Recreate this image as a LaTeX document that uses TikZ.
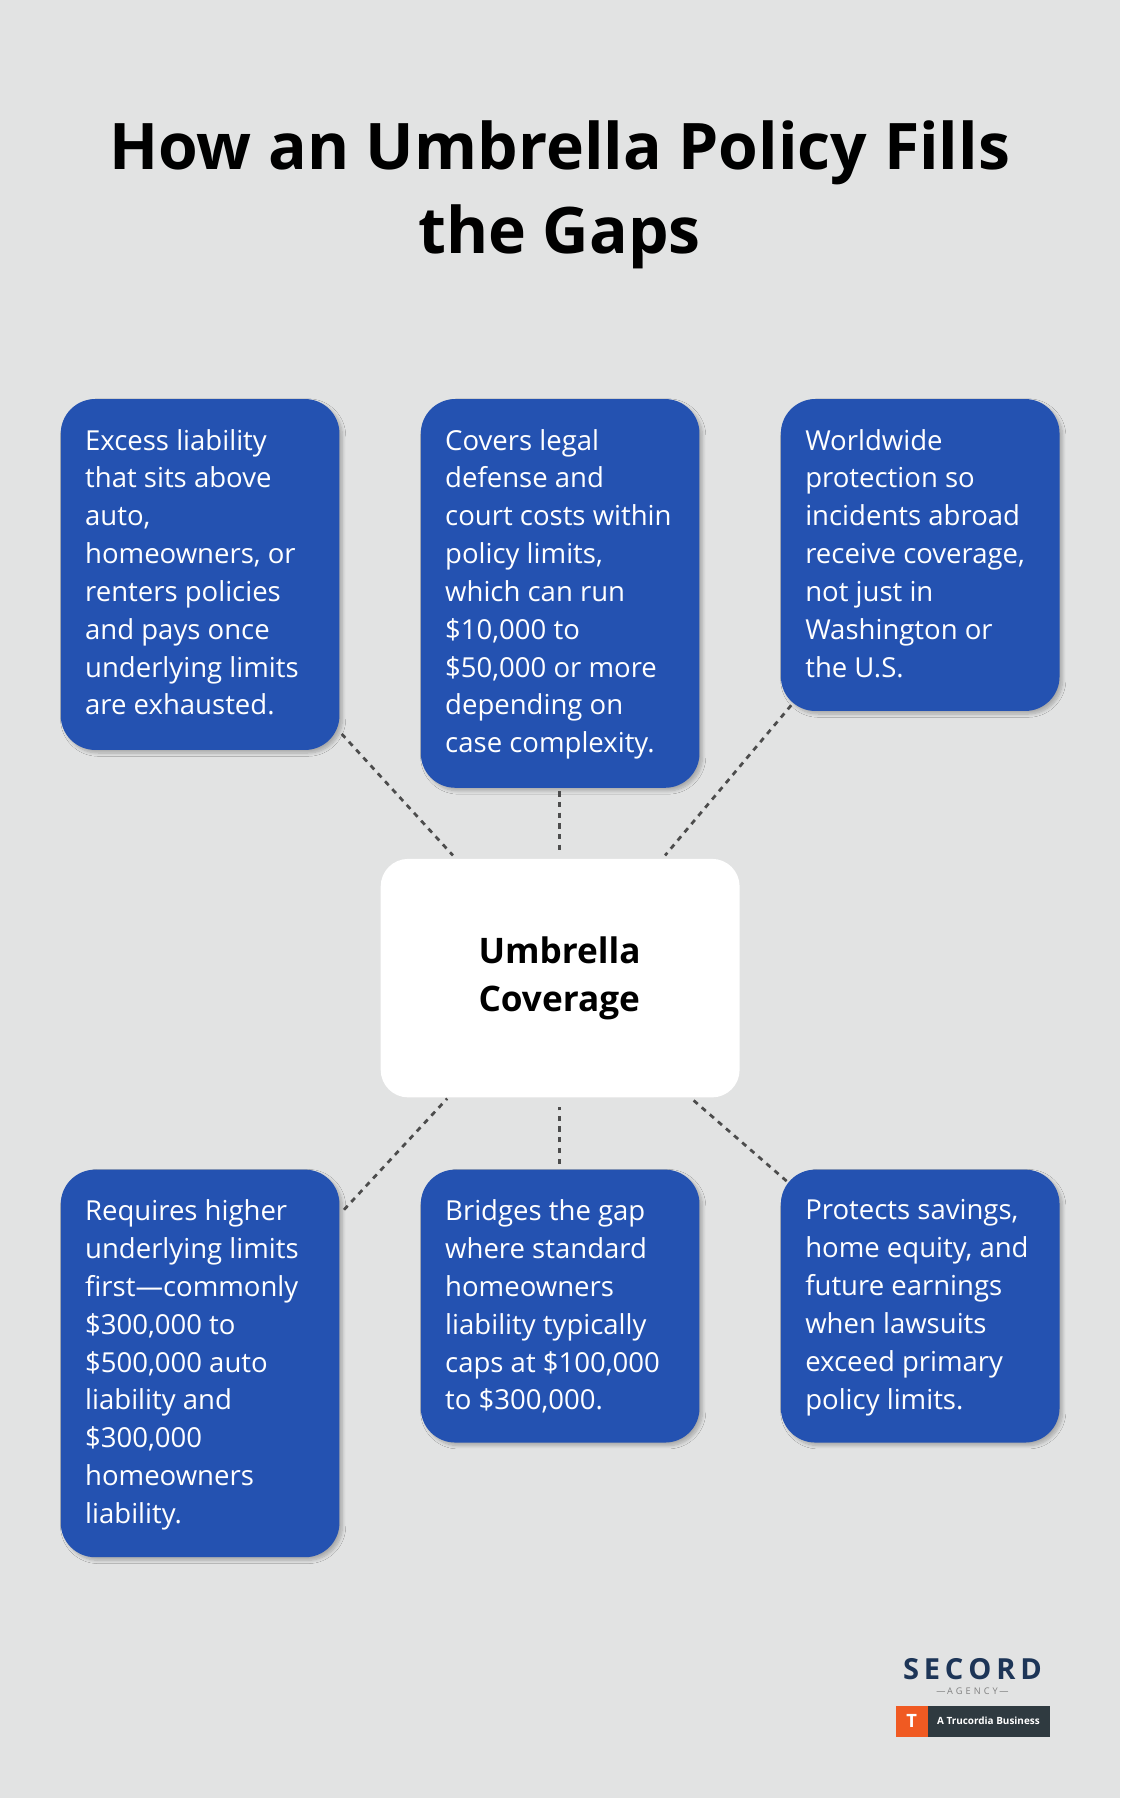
\documentclass[tikz,border=0pt]{standalone}
\usepackage{fontspec}
\setmainfont{Open Sans}
\usetikzlibrary{shadows.blur}
\definecolor{bg}{HTML}{E2E3E3}
\definecolor{boxblue}{HTML}{2452B1}
\definecolor{navy}{HTML}{1D3557}
\definecolor{orng}{HTML}{F05A22}
\definecolor{dgray}{HTML}{2F3A40}

\begin{document}
\begin{tikzpicture}[
  x=0.75pt, y=-0.75pt,
  card/.style={fill=boxblue, rounded corners=22.5pt, blur shadow={shadow blur steps=8, shadow xshift=2pt, shadow yshift=-2pt, shadow opacity=25}},
  cardtxt/.style={anchor=north west, text=white, align=left, inner sep=0pt, font=\fontsize{18}{24.75}\selectfont},
  link/.style={gray!60!black, line width=1.8pt, dash pattern=on 3.5pt off 3.5pt},
]
\fill[bg] (0,0) rectangle (977,1568);

\node[font=\bfseries\fontsize{42}{55}\selectfont, align=center] (title) at (488,170) {How an Umbrella Policy Fills\\the Gaps};

% cards
\fill[card] (53,348) rectangle (296,654);
\fill[card] (367,348) rectangle (610,687);
\fill[card] (681,348) rectangle (924,620);
\fill[card] (53,1020) rectangle (296,1358);
\fill[card] (367,1020) rectangle (610,1258);
\fill[card] (681,1020) rectangle (924,1258);

\node[cardtxt] (exc) at (74,374) {Excess liability\\that sits above\\auto,\\homeowners, or\\renters policies\\and pays once\\underlying limits\\are exhausted.};
\node[cardtxt] (leg) at (388,374) {Covers legal\\defense and\\court costs within\\policy limits,\\which can run\\\$10,000 to\\\$50,000 or more\\depending on\\case complexity.};
\node[cardtxt] (wor) at (702,374) {Worldwide\\protection so\\incidents abroad\\receive coverage,\\not just in\\Washington or\\the U.S.};
\node[cardtxt] (req) at (74,1046) {Requires higher\\underlying limits\\first—commonly\\\$300,000 to\\\$500,000 auto\\liability and\\\$300,000\\homeowners\\liability.};
\node[cardtxt] (bri) at (388,1046) {Bridges the gap\\where standard\\homeowners\\liability typically\\caps at \$100,000\\to \$300,000.};
\node[cardtxt] (pro) at (702,1046) {Protects savings,\\home equity, and\\future earnings\\when lawsuits\\exceed primary\\policy limits.};

% centre
\fill[white, rounded corners=18pt] (332,749) rectangle (645,957);
\node[font=\bfseries\fontsize{23}{31.5}\selectfont, align=left] (umb) at (488,853) {Umbrella\\Coverage};

\coordinate (a1) at (298,640); \coordinate (c1) at (395,746);
\coordinate (a2) at (488,690); \coordinate (c2) at (488,742);
\coordinate (a3) at (690,615); \coordinate (c3) at (580,746);
\coordinate (a4) at (300,1055); \coordinate (c4) at (390,958);
\coordinate (a5) at (488,1015); \coordinate (c5) at (488,965);
\coordinate (a6) at (686,1030); \coordinate (c6) at (603,958);
\foreach \i in {1,...,6} \draw[link] (a\i) -- (c\i);

% logo
\node[font=\bfseries\fontsize{19}{19}\selectfont, text=navy] (sec) at (848,1456) {S\,E\,C\,O\,R\,D};
\node[font=\fontsize{6}{6}\selectfont, text=gray] (agy) at (848,1475) {—\,A\,\,G\,\,E\,\,N\,\,C\,\,Y\,—};
\fill[dgray] (781,1488) rectangle (916,1515);
\fill[orng] (781,1488) rectangle (809,1515);
\node[font=\bfseries\fontsize{12}{12}\selectfont, text=white] (tlogo) at (795,1501) {T};
\node[font=\bfseries\fontsize{6.5}{6.5}\selectfont, text=white] (truc) at (862,1501) {A Trucordia Business};
\end{tikzpicture}
\end{document}
